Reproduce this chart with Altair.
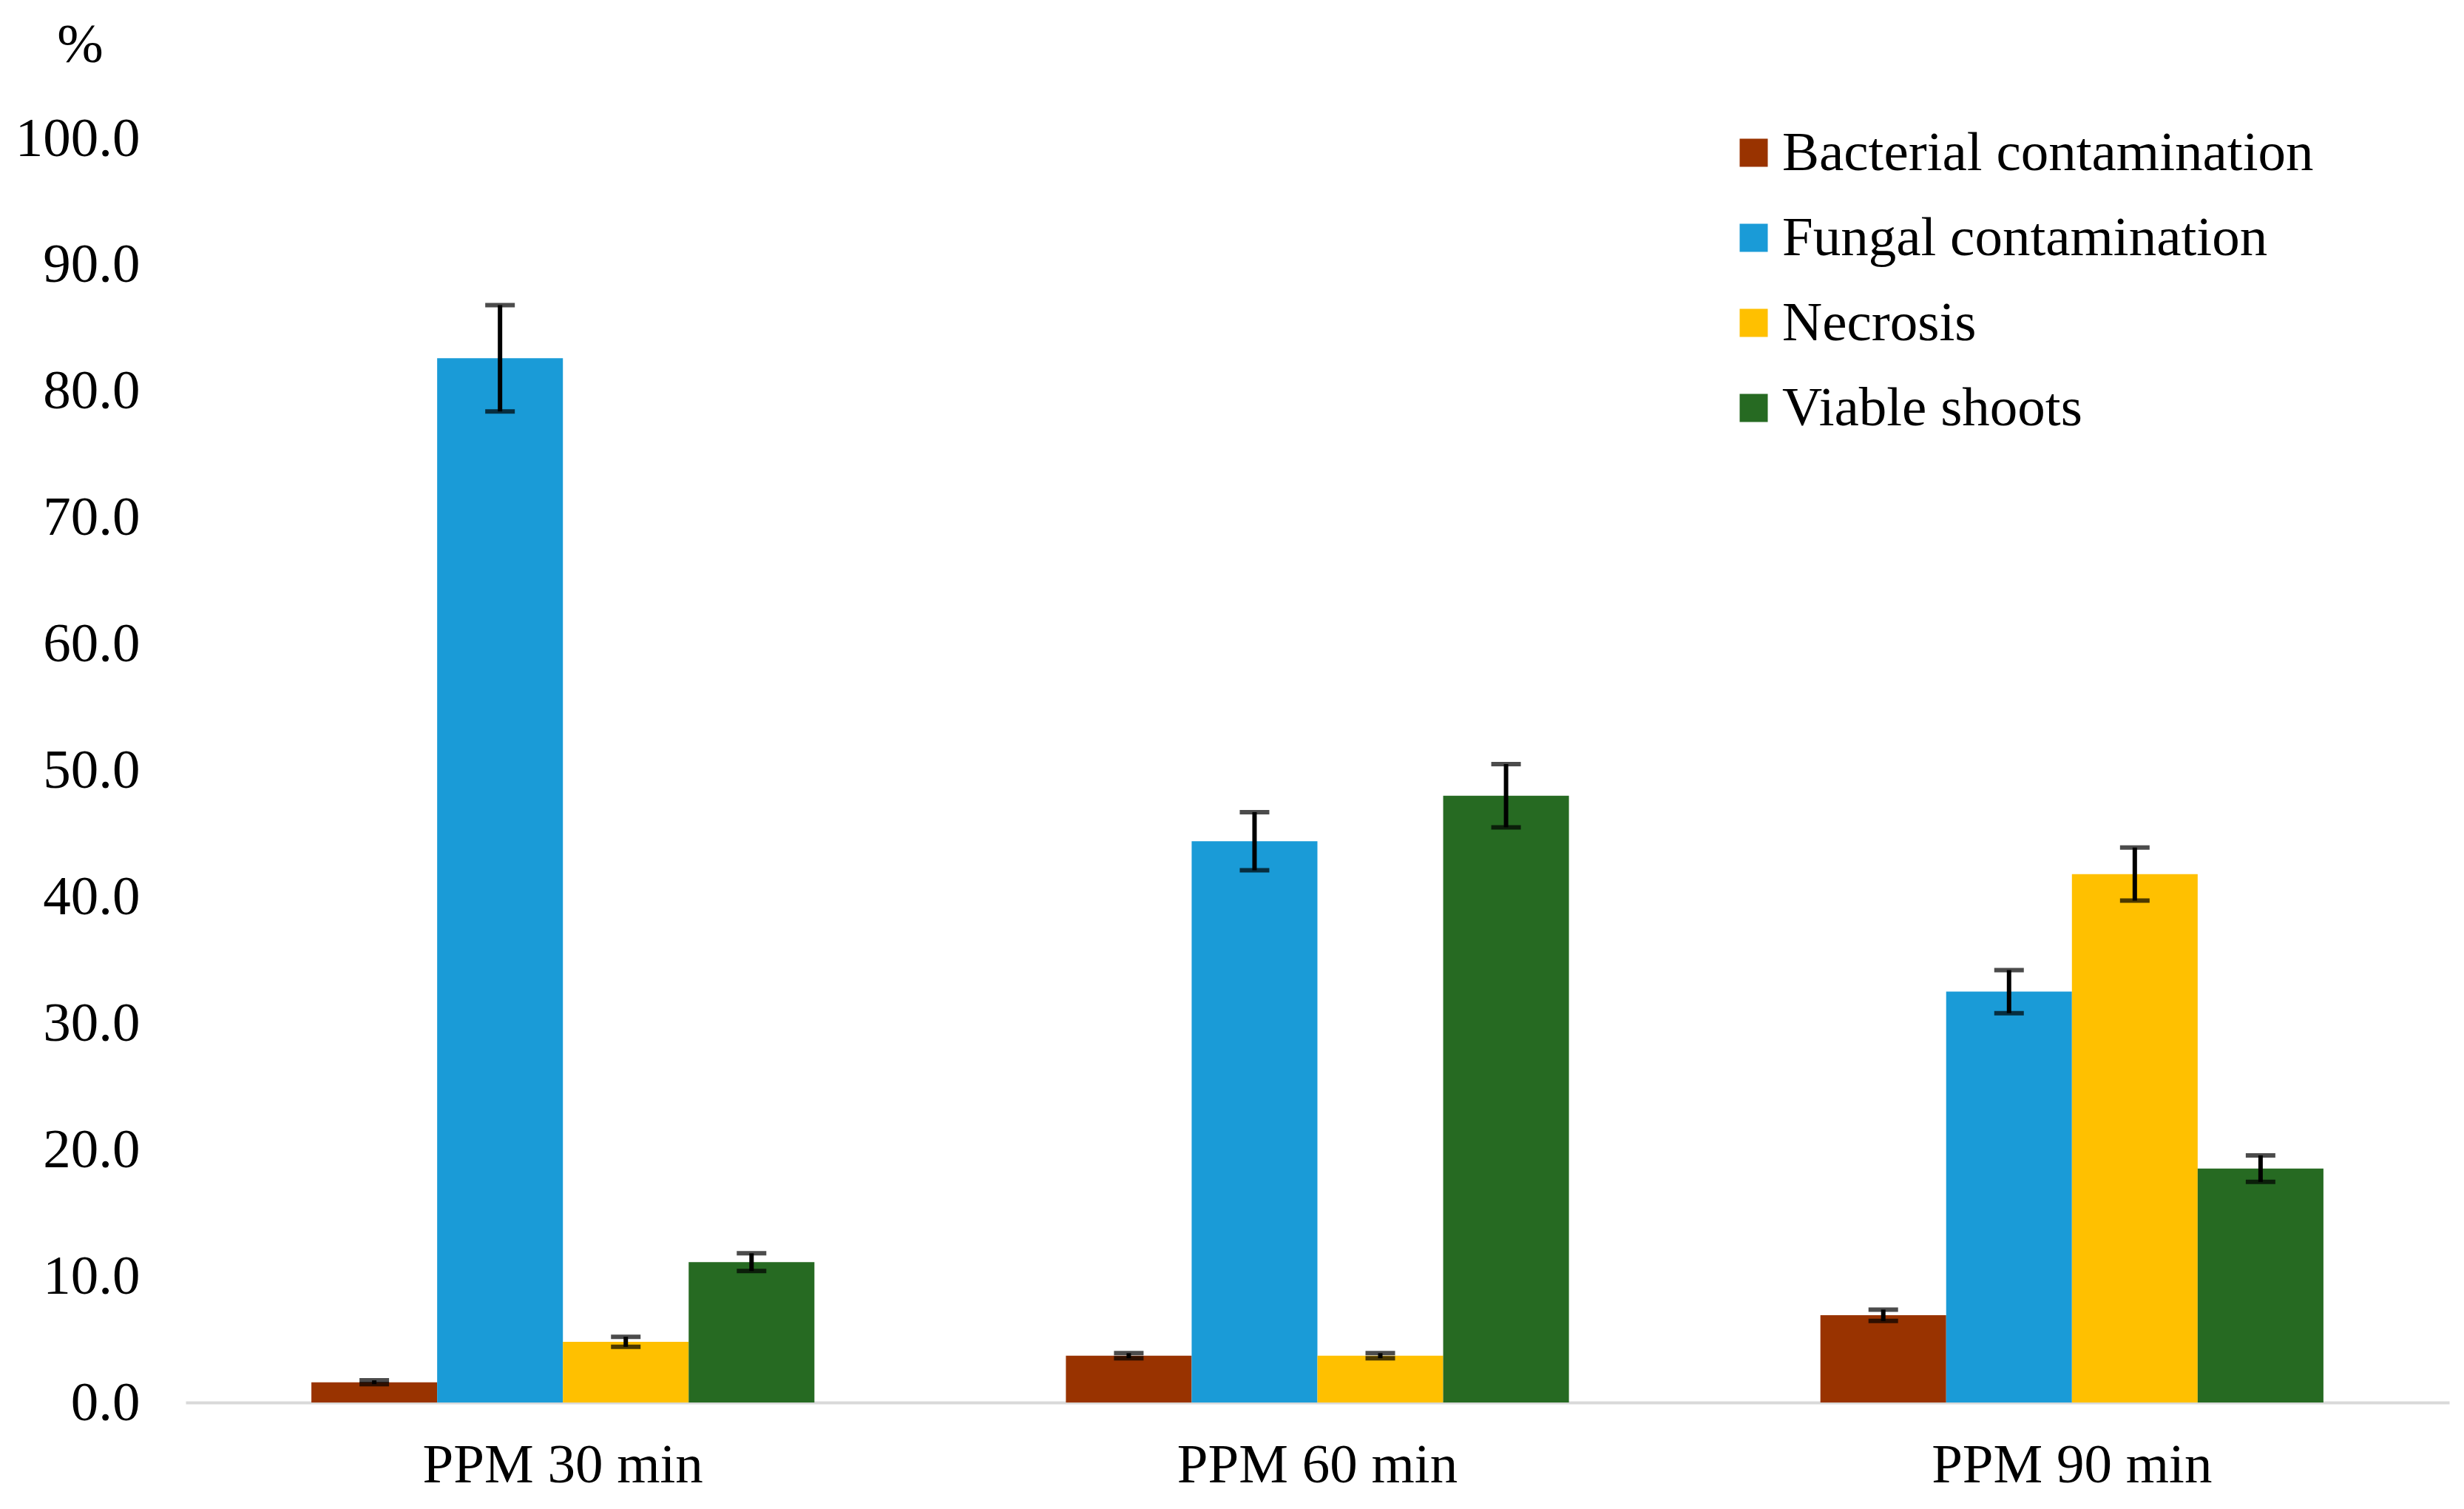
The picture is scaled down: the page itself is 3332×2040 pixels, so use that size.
import pandas as pd
import altair as alt

groups = ['PPM 30 min', 'PPM 60 min', 'PPM 90 min']
series = ['Bacterial contamination', 'Fungal contamination', 'Necrosis', 'Viable shoots']
colors = ['#993300', '#1A9BD7', '#FFC000', '#266A22']

bacterial = [1.6, 3.7, 6.9]
bacterial_err = [0.15, 0.2, 0.45]
fungal = [82.6, 44.4, 32.5]
fungal_err = [4.2, 2.3, 1.7]
necrosis = [4.8, 3.7, 41.8]
necrosis_err = [0.4, 0.2, 2.1]
viable = [11.1, 48.0, 18.5]
viable_err = [0.7, 2.5, 1.05]

rows = []
for name, vals, errs in zip(series, [bacterial, fungal, necrosis, viable],
                            [bacterial_err, fungal_err, necrosis_err, viable_err]):
    for g, v, e in zip(groups, vals, errs):
        rows.append({'group': g, 'series': name, 'value': v, 'lo': v - e, 'hi': v + e})
df = pd.DataFrame(rows)

font = 'Liberation Serif'

x = alt.X('group:N', sort=groups,
          scale=alt.Scale(paddingInner=0.3333, paddingOuter=0.1667),
          axis=alt.Axis(title=None, labelAngle=0, labelFont=font, labelFontSize=75,
                        labelColor='black', labelPadding=48, labelLimit=0, ticks=False,
                        domainColor='#d9d9d9', domainWidth=4))
xoff = alt.XOffset('series:N', sort=series, scale=alt.Scale(paddingInner=0, paddingOuter=0))

bars = alt.Chart(df).mark_bar().encode(
    x=x,
    xOffset=xoff,
    y=alt.Y('value:Q', scale=alt.Scale(domain=[0, 100], nice=False),
            axis=alt.Axis(title='%', titleAngle=0, titleX=-143, titleY=-127,
                          titleAlign='center', titleBaseline='middle',
                          titleFont=font, titleFontSize=75, titleFontWeight='normal',
                          titleColor='black',
                          values=list(range(0, 101, 10)), format='.1f',
                          labelFont=font, labelFontSize=75, labelColor='black',
                          labelPadding=62, ticks=False, domain=False, grid=False)),
    color=alt.Color('series:N', sort=series,
                    scale=alt.Scale(domain=series, range=colors),
                    legend=alt.Legend(title=None, orient='none', legendX=2083, legendY=-18,
                                      symbolType='square', symbolSize=1444,
                                      symbolStrokeWidth=0, labelFont=font,
                                      labelFontSize=75, labelColor='black', labelLimit=0,
                                      labelOffset=1, rowPadding=39, padding=0)),
)

stems = alt.Chart(df).mark_rule(color='black', strokeWidth=6).encode(
    x=alt.X('group:N', sort=groups), xOffset=xoff,
    y='lo:Q', y2='hi:Q')

caps_hi = alt.Chart(df).mark_tick(color='black', size=40, thickness=6).encode(
    x=alt.X('group:N', sort=groups), xOffset=xoff, y='hi:Q')
caps_lo = alt.Chart(df).mark_tick(color='black', size=40, thickness=6).encode(
    x=alt.X('group:N', sort=groups), xOffset=xoff, y='lo:Q')

chart = alt.layer(bars, stems, caps_hi, caps_lo).properties(
    width=3061, height=1709,
    autosize=alt.AutoSizeParams(type='none'),
    padding={'left': 243, 'top': 179, 'right': 10, 'bottom': 140},
    background='white',
).configure_view(stroke=None)

chart.save('out.html', embed_options={'renderer': 'svg', 'actions': False})
